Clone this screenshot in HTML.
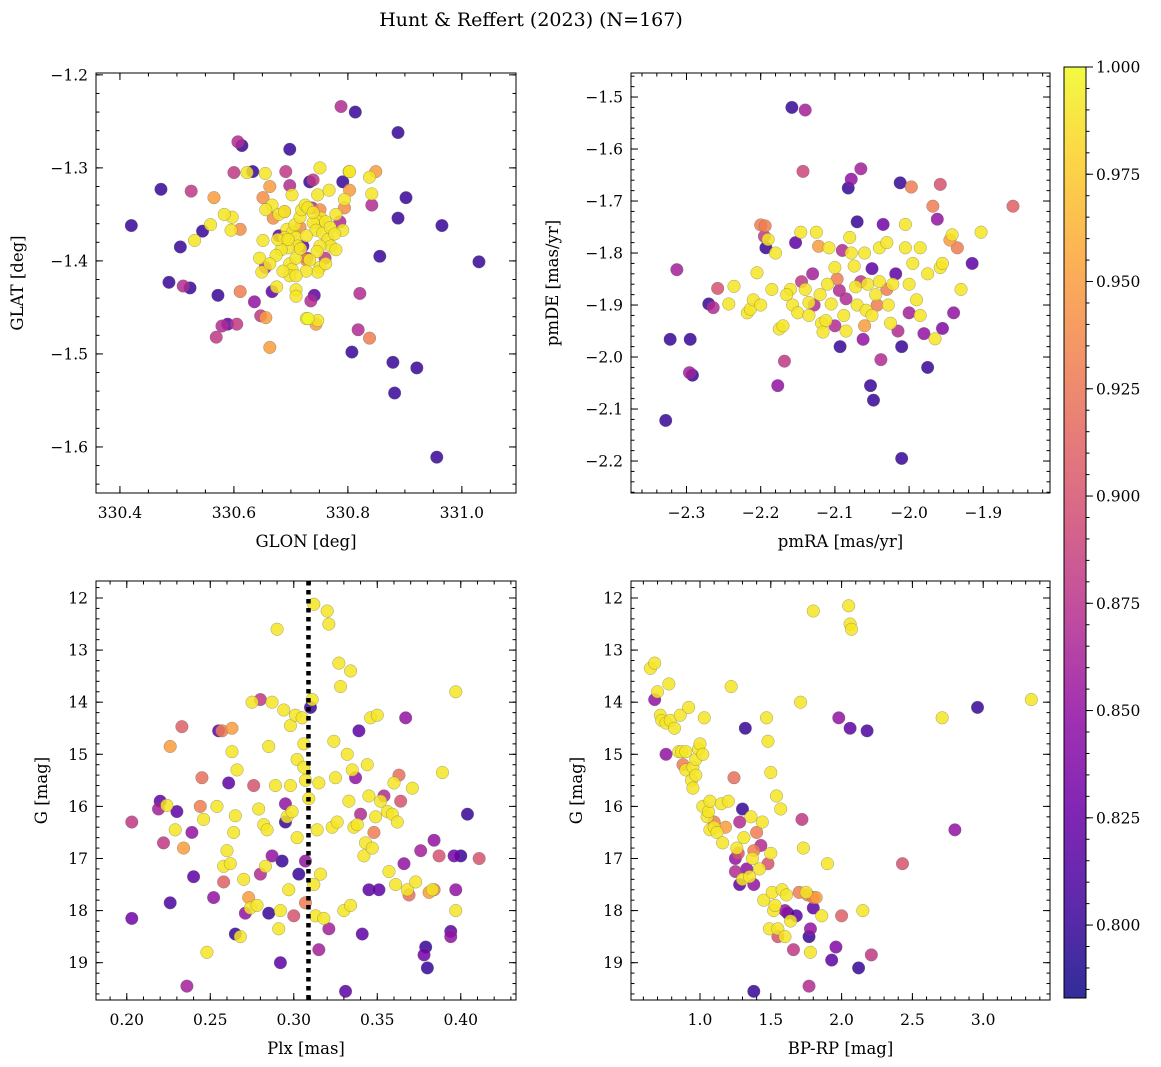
<!DOCTYPE html>
<html><head><meta charset="utf-8"><style>
html,body{margin:0;padding:0;background:#fff;}
svg{display:block;font-family:"DejaVu Serif","Liberation Serif",serif;}
</style></head><body>
<svg id="fig" width="1161" height="1067" viewBox="0 0 1161 1067" xmlns="http://www.w3.org/2000/svg">
<text x="531" y="26" text-anchor="middle" font-size="19">Hunt &amp; Reffert (2023) (N=167)</text>
</svg>
<script>
// ---- Panel 1: GLON / GLAT ----
const p1Glon=[330.420,330.472,330.506,330.486,330.511,330.523,330.525,330.545,330.531,330.559,330.565,330.572,330.569,330.579,330.589,330.605,330.607,330.614,330.600,330.623,330.633,330.655,330.691,330.698,330.751,330.788,330.813,330.888,330.849,330.802,330.838,330.739,330.733,330.791,330.767,330.842,330.902,330.842,330.888,330.965,331.030,330.856,330.821,330.818,330.838,330.807,330.879,330.882,330.921,330.956,330.611,330.647,330.656,330.663,330.636,330.744,330.747,330.727,330.735,330.611,330.595,330.597,330.583,330.645,330.649,330.651,
330.663,330.669,330.667,330.679,330.689,330.693,330.702,330.707,330.716,330.719,330.725,330.730,330.751,330.753,330.747,330.739,330.744,330.756,330.761,330.769,330.765,330.770,330.751,330.746,330.751,330.747,330.761,330.779,330.709,330.712,330.695,330.689,330.683,330.677,330.674,330.698,330.702,330.709,330.709,330.709,330.698,330.686,330.675,330.663,330.655,330.667,330.679,330.721,330.728,330.760,330.733,330.741,330.779,330.786,330.791,330.777,330.747,330.702,330.698,330.656,330.651,330.794,330.794,330.803,330.803,330.727,330.695,330.727,330.717,330.709,330.727,330.716,330.689,330.737,330.739,330.730];
const p1Glat=[-1.362,-1.323,-1.385,-1.423,-1.427,-1.429,-1.325,-1.368,-1.378,-1.361,-1.332,-1.437,-1.482,-1.470,-1.468,-1.468,-1.272,-1.276,-1.305,-1.305,-1.304,-1.306,-1.304,-1.280,-1.300,-1.234,-1.240,-1.262,-1.304,-1.304,-1.310,-1.313,-1.315,-1.315,-1.324,-1.340,-1.332,-1.328,-1.354,-1.362,-1.401,-1.395,-1.435,-1.474,-1.483,-1.498,-1.509,-1.542,-1.515,-1.611,-1.433,-1.459,-1.461,-1.493,-1.444,-1.468,-1.464,-1.462,-1.443,-1.366,-1.367,-1.353,-1.350,-1.397,-1.412,-1.378,
-1.320,-1.354,-1.340,-1.350,-1.347,-1.366,-1.370,-1.361,-1.353,-1.345,-1.340,-1.343,-1.345,-1.354,-1.358,-1.359,-1.367,-1.370,-1.358,-1.364,-1.377,-1.384,-1.384,-1.390,-1.407,-1.412,-1.403,-1.388,-1.375,-1.384,-1.386,-1.375,-1.388,-1.377,-1.394,-1.403,-1.409,-1.397,-1.431,-1.438,-1.416,-1.411,-1.428,-1.403,-1.407,-1.433,-1.373,-1.384,-1.397,-1.397,-1.399,-1.437,-1.350,-1.358,-1.367,-1.371,-1.329,-1.329,-1.319,-1.345,-1.332,-1.343,-1.334,-1.324,-1.304,-1.373,-1.377,-1.411,-1.387,-1.416,-1.399,-1.364,-1.347,-1.343,-1.348,-1.462];
const p1Prob=[0.80,0.80,0.80,0.80,0.87,0.80,0.88,0.80,0.99,0.99,0.95,0.80,0.88,0.87,0.82,0.88,0.87,0.80,0.88,0.99,0.80,0.99,0.88,0.80,0.99,0.87,0.80,0.80,0.95,0.99,0.99,0.88,0.80,0.80,0.99,0.87,0.80,0.99,0.80,0.80,0.80,0.80,0.87,0.87,0.93,0.80,0.80,0.80,0.80,0.80,0.93,0.88,0.95,0.95,0.85,0.95,0.99,0.99,0.87,0.94,0.99,0.99,0.99,0.99,0.99,0.99,
0.95,0.94,0.99,0.99,0.99,0.99,0.99,0.99,0.99,0.99,0.99,0.99,0.94,0.99,0.99,0.99,0.99,0.99,0.99,0.99,0.99,0.99,0.99,0.99,0.99,0.99,0.99,0.99,0.99,0.99,0.99,0.99,0.99,0.99,0.99,0.99,0.99,0.99,0.99,0.99,0.99,0.99,0.99,0.99,0.87,0.82,0.82,0.82,0.87,0.88,0.99,0.82,0.99,0.87,0.99,0.99,0.99,0.99,0.87,0.99,0.94,0.94,0.99,0.95,0.99,0.99,0.99,0.99,0.99,0.99,0.94,0.94,0.94,0.87,0.99];

// ---- Panel 2: pmRA / pmDE ----
const p2Pmra=[-2.328,-2.322,-2.313,-2.296,-2.292,-2.295,-2.27,-2.264,-2.258,-2.243,-2.236,-2.218,-2.214,-2.21,-2.205,-2.2,-2.194,-2.195,-2.193,-2.19,-2.18,-2.177,-2.175,-2.17,-2.168,-2.158,-2.153,-2.14,-2.143,-2.146,-2.16,-2.165,-2.157,-2.15,-2.145,-2.14,-2.135,-2.13,-2.128,-2.122,-2.118,-2.116,-2.112,-2.108,-2.105,-2.10,-2.097,-2.094,-2.093,-2.09,-2.088,-2.085,-2.082,-2.078,-2.08,-2.078,-2.074,-2.072,-2.07,-2.07,-2.065,-2.065,-2.062,-2.06,-2.058,-2.056,-2.05,-2.045,-2.043,-2.04,-2.04,-2.038,-2.035,-2.03,-2.028,-2.025,-2.022,-2.018,-2.015,-2.01,-2.005,-2.0,-1.995,-2.052,-2.048,-2.01,-2.012,-1.997,-2.005,-1.985,-1.99,-1.985,-1.98,-1.975,-1.965,-1.962,-1.968,-1.975,-1.958,-1.958,-1.955,-1.955,-1.945,-1.942,-1.935,-1.93,-1.94,-1.915,-1.903,-1.86,-2.125,-2.11,-2.135,-2.1,-2.06,-2.03,-2.2,-2.185,-2.12,-2.085,-2.05,-2.0];
const p2Pmde=[-2.122,-1.966,-1.832,-2.03,-2.035,-1.966,-1.898,-1.905,-1.868,-1.898,-1.864,-1.915,-1.908,-1.89,-1.838,-1.746,-1.748,-1.768,-1.79,-1.774,-1.80,-2.055,-1.946,-1.94,-2.008,-1.52,-1.78,-1.525,-1.643,-1.76,-1.87,-1.88,-1.90,-1.915,-1.855,-1.87,-1.895,-1.84,-1.90,-1.787,-1.935,-1.952,-1.93,-1.79,-1.898,-1.828,-1.85,-1.872,-1.98,-1.795,-1.92,-1.888,-1.675,-1.658,-1.77,-1.80,-1.825,-1.865,-1.74,-1.90,-1.855,-1.638,-1.966,-1.80,-1.91,-1.86,-1.83,-1.88,-1.90,-1.855,-1.79,-2.005,-1.745,-1.87,-1.90,-1.935,-1.86,-1.84,-1.95,-1.98,-1.79,-1.915,-1.82,-2.055,-2.083,-2.195,-1.665,-1.673,-1.745,-1.79,-1.89,-1.92,-1.955,-1.84,-1.965,-1.735,-1.71,-2.02,-1.668,-1.828,-1.82,-1.945,-1.775,-1.765,-1.79,-1.87,-1.915,-1.82,-1.76,-1.71,-1.76,-1.86,-1.92,-1.94,-1.94,-1.78,-1.9,-1.87,-1.88,-1.95,-1.92,-1.86];
const p2Prob=[0.80,0.80,0.86,0.86,0.80,0.80,0.80,0.87,0.90,0.99,0.99,0.99,0.99,0.99,0.99,0.93,0.93,0.88,0.80,0.99,0.99,0.85,0.99,0.99,0.88,0.80,0.82,0.86,0.89,0.99,0.99,0.99,0.99,0.99,0.88,0.99,0.99,0.86,0.87,0.95,0.99,0.99,0.99,0.99,0.99,0.99,0.93,0.87,0.80,0.87,0.99,0.87,0.80,0.85,0.99,0.99,0.99,0.99,0.80,0.99,0.88,0.86,0.85,0.99,0.99,0.99,0.82,0.99,0.93,0.99,0.99,0.87,0.83,0.93,0.99,0.99,0.99,0.82,0.87,0.80,0.99,0.86,0.99,0.80,0.80,0.80,0.80,0.93,0.99,0.99,0.99,0.99,0.85,0.99,0.99,0.85,0.93,0.80,0.90,0.99,0.99,0.84,0.95,0.99,0.93,0.99,0.85,0.82,0.99,0.91,0.99,0.99,0.99,0.87,0.95,0.99,0.99,0.99,0.99,0.99,0.99,0.99];

// ---- Panel 3: Plx / G ----
const p3Plx=[0.203,0.203,0.220,0.219,0.222,0.224,0.226,0.229,0.230,0.233,0.234,0.236,0.239,0.240,0.226,0.245,0.244,0.246,0.248,0.252,0.254,0.255,0.257,0.258,0.258,0.260,0.261,0.262,0.263,0.263,0.264,0.265,0.266,0.265,0.268,0.270,0.271,0.273,0.274,0.275,0.276,0.278,0.279,0.280,0.280,0.282,0.283,0.284,0.285,0.285,0.287,0.287,0.289,0.290,0.291,0.292,0.292,0.293,0.294,0.295,0.295,0.296,0.297,0.298,0.298,0.299,0.300,0.301,0.302,0.302,0.303,0.305,0.306,0.306,0.307,0.307,0.307,0.309,0.310,0.311,0.312,0.312,0.313,0.314,0.315,0.316,0.315,0.318,0.320,0.321,0.321,0.323,0.324,0.325,0.326,0.327,0.328,0.330,0.331,0.332,0.333,0.334,0.334,0.335,0.336,0.337,0.338,0.339,0.340,0.341,0.342,0.343,0.344,0.345,0.345,0.346,0.347,0.348,0.349,0.350,0.351,0.352,0.354,0.356,0.357,0.359,0.360,0.361,0.362,0.363,0.364,0.366,0.367,0.368,0.369,0.371,0.373,0.376,0.378,0.379,0.380,0.381,0.383,0.384,0.384,0.387,0.389,0.394,0.394,0.396,0.397,0.397,0.397,0.400,0.404,0.411];
const p3G=[16.3,18.15,15.9,16.05,16.7,15.98,17.85,16.45,16.1,14.47,16.8,19.45,16.5,17.35,14.85,15.45,16.0,16.25,18.8,17.75,16.0,14.55,14.55,17.45,17.15,16.85,15.55,17.1,14.5,14.95,16.5,16.18,15.3,18.45,18.5,17.4,18.05,17.75,17.95,14.0,15.6,17.9,16.05,13.95,17.3,16.35,17.15,16.45,18.05,14.85,14.0,16.95,15.6,12.6,18.35,19.0,18.0,17.05,14.15,16.3,15.95,16.2,17.6,14.45,15.6,16.1,18.1,14.25,15.1,16.6,17.3,14.3,14.8,15.25,15.5,17.05,17.85,15.85,14.1,13.95,12.12,17.5,18.1,16.45,18.75,17.3,15.55,18.15,12.25,12.5,18.35,16.4,14.75,15.45,16.3,13.25,13.7,18.0,19.55,15.0,15.9,13.4,17.9,15.3,16.4,15.45,16.35,14.55,16.15,18.45,16.95,16.7,15.2,17.6,15.8,14.3,16.8,16.5,16.2,14.25,17.6,15.9,15.8,16.1,17.25,16.15,15.55,17.5,16.3,15.4,15.9,17.1,14.3,17.6,17.7,15.65,17.45,16.85,18.85,18.7,19.1,17.65,17.6,16.65,17.6,16.95,15.35,18.4,18.5,16.95,17.6,18.0,13.8,16.95,16.15,17.0];
const p3Prob=[0.88,0.83,0.82,0.86,0.88,0.99,0.81,0.99,0.82,0.91,0.95,0.86,0.85,0.82,0.95,0.92,0.93,0.99,0.99,0.85,0.99,0.82,0.93,0.91,0.99,0.99,0.82,0.99,0.95,0.99,0.99,0.99,0.99,0.80,0.99,0.99,0.85,0.95,0.99,0.99,0.90,0.99,0.99,0.88,0.87,0.99,0.99,0.99,0.80,0.99,0.99,0.85,0.99,0.99,0.99,0.82,0.99,0.80,0.99,0.80,0.85,0.99,0.99,0.99,0.99,0.99,0.90,0.99,0.99,0.99,0.80,0.99,0.99,0.99,0.99,0.85,0.93,0.99,0.80,0.99,0.99,0.99,0.99,0.99,0.86,0.99,0.99,0.99,0.99,0.99,0.86,0.99,0.99,0.99,0.99,0.99,0.99,0.99,0.82,0.99,0.99,0.99,0.99,0.99,0.99,0.85,0.99,0.82,0.87,0.82,0.99,0.99,0.99,0.82,0.99,0.99,0.99,0.93,0.99,0.99,0.82,0.99,0.87,0.99,0.99,0.99,0.99,0.99,0.99,0.92,0.90,0.85,0.85,0.99,0.92,0.99,0.99,0.86,0.83,0.80,0.80,0.95,0.99,0.85,0.93,0.90,0.99,0.82,0.85,0.83,0.85,0.99,0.99,0.80,0.80,0.90];
const p3Cut=[0.3088];

// ---- Panel 4: BP-RP / G ----
const p4Col=[0.65,0.68,0.68,0.7,0.72,0.73,0.76,0.76,0.78,0.79,0.82,0.85,0.86,0.87,0.88,0.9,0.92,0.9,0.94,0.95,0.95,0.97,0.97,0.99,1.0,1.02,1.02,1.03,1.05,1.06,1.07,1.07,1.1,1.1,1.12,1.15,1.16,1.18,1.2,1.22,1.24,1.25,1.25,1.26,1.27,1.28,1.28,1.3,1.3,1.31,1.32,1.33,1.35,1.36,1.37,1.38,1.38,1.38,1.4,1.42,1.43,1.44,1.45,1.47,1.48,1.48,1.49,1.5,1.5,1.51,1.52,1.53,1.54,1.55,1.55,1.57,1.58,1.6,1.6,1.61,1.62,1.64,1.66,1.68,1.7,1.71,1.72,1.73,1.75,1.76,1.77,1.77,1.78,1.78,1.8,1.8,1.8,1.82,1.86,1.9,1.93,1.96,1.98,2.0,2.05,2.06,2.07,2.06,2.12,2.15,2.18,2.21,2.43,2.71,2.8,2.96,3.34];
const p4G=[13.35,13.25,13.95,13.8,14.25,14.35,14.4,15.0,13.65,14.35,14.5,14.95,14.25,14.95,15.2,15.3,14.1,14.95,15.5,15.65,15.25,15.1,15.4,14.9,14.8,15.0,16.0,14.3,16.2,16.1,15.9,16.45,16.3,16.4,16.5,15.95,16.7,16.4,15.9,13.7,15.45,17.0,17.25,16.8,16.9,17.5,16.3,17.4,16.05,16.6,14.5,17.2,17.35,16.2,17.0,16.85,17.5,19.55,16.5,17.2,16.75,16.3,17.8,14.3,14.75,17.1,18.35,15.35,16.9,17.65,18.0,17.9,15.8,18.35,18.5,16.05,17.6,18.0,18.5,17.7,18.05,18.2,18.75,18.1,17.65,14.0,16.25,16.8,17.65,17.7,18.5,19.45,18.35,18.8,12.25,17.95,17.75,17.75,18.1,17.1,18.95,18.7,14.3,18.1,12.15,12.5,12.6,14.5,19.1,18.0,14.55,18.85,17.1,14.3,16.45,14.1,13.95];
const p4Prob=[0.99,0.99,0.85,0.99,0.99,0.99,0.99,0.85,0.99,0.99,0.99,0.99,0.99,0.99,0.93,0.99,0.99,0.99,0.99,0.99,0.99,0.99,0.99,0.99,0.99,0.99,0.99,0.99,0.99,0.99,0.99,0.99,0.93,0.99,0.99,0.99,0.99,0.95,0.99,0.99,0.92,0.85,0.87,0.99,0.90,0.82,0.87,0.99,0.80,0.99,0.80,0.85,0.99,0.99,0.99,0.93,0.85,0.80,0.93,0.99,0.87,0.99,0.99,0.99,0.99,0.90,0.99,0.99,0.99,0.99,0.99,0.99,0.99,0.99,0.90,0.99,0.99,0.85,0.99,0.99,0.80,0.99,0.88,0.82,0.93,0.99,0.88,0.99,0.99,0.93,0.80,0.87,0.85,0.99,0.99,0.82,0.93,0.95,0.99,0.99,0.82,0.84,0.85,0.91,0.99,0.99,0.99,0.82,0.80,0.99,0.81,0.88,0.90,0.99,0.85,0.80,0.99];

const cbTicks=[0.800,0.825,0.850,0.875,0.900,0.925,0.950,0.975,1.000];
const VMIN=0.783, VMAX=1.0;

const NS="http://www.w3.org/2000/svg";
const svg=document.getElementById('fig');
function mk(tag,attrs,parent){const e=document.createElementNS(NS,tag);for(const k in attrs)e.setAttribute(k,attrs[k]);(parent||svg).appendChild(e);return e;}
const stops=[[0,13,8,135],[0.1,65,4,157],[0.2,106,0,168],[0.3,143,13,164],[0.4,177,42,144],[0.5,204,71,120],[0.6,225,100,98],[0.7,242,132,75],[0.8,252,166,54],[0.9,252,206,37],[1,240,249,33]];
function plasma(t){t=Math.max(0,Math.min(1,t));for(let i=1;i<stops.length;i++){if(t<=stops[i][0]){const a=stops[i-1],b=stops[i],f=(t-a[0])/(b[0]-a[0]);return 'rgb('+[1,2,3].map(j=>Math.round(a[j]+(b[j]-a[j])*f)).join(',')+')';}}return 'rgb(240,249,33)';}
function cval(p){return plasma((p-VMIN)/(VMAX-VMIN));}

function panel(cfg){
  const g=mk('g',{});
  
  
  const {x0,x1,y0,y1,xmin,xmax,ymin,ymax}=cfg;
  const sx=v=>x0+(v-xmin)/(xmax-xmin)*(x1-x0);
  const sy=cfg.invert? v=>y0+(v-ymin)/(ymax-ymin)*(y1-y0) : v=>y1-(v-ymin)/(ymax-ymin)*(y1-y0);
  const clip='clip-'+cfg.name;
  const cp=mk('clipPath',{id:clip},g);mk('rect',{x:x0,y:y0,width:x1-x0,height:y1-y0},cp);
  const pts=mk('g',{'clip-path':'url(#'+clip+')'},g);
  const order=cfg.xs.map((_,i)=>i).sort((a,b)=>cfg.p[a]-cfg.p[b]);
  order.forEach(i=>{const c=mk('circle',{cx:sx(cfg.xs[i]),cy:sy(cfg.ys[i]),r:6.3,fill:cval(cfg.p[i]),'fill-opacity':0.85,stroke:'#666','stroke-width':0.5,'stroke-opacity':0.6},pts);
    
    });
  if(cfg.cut){cfg.cut.forEach(c=>{const l=mk('line',{x1:sx(c),x2:sx(c),y1:y0,y2:y1,stroke:'#000','stroke-width':4.5,'stroke-dasharray':'4.5,4.5'},pts);
    
    });}
  mk('rect',{x:x0,y:y0,width:x1-x0,height:y1-y0,fill:'none',stroke:'#000','stroke-width':1},g);
  const tk=(v,isX,len)=>{if(isX){const X=sx(v);if(X<x0-0.5||X>x1+0.5)return;mk('line',{x1:X,x2:X,y1:y1,y2:y1-len,stroke:'#000','stroke-width':1},g);mk('line',{x1:X,x2:X,y1:y0,y2:y0+len,stroke:'#000','stroke-width':1},g);}
    else{const Y=sy(v);if(Y<y0-0.5||Y>y1+0.5)return;mk('line',{x1:x0,x2:x0+len,y1:Y,y2:Y,stroke:'#000','stroke-width':1},g);mk('line',{x1:x1,x2:x1-len,y1:Y,y2:Y,stroke:'#000','stroke-width':1},g);}};
  for(let k=Math.ceil(xmin/cfg.xminor);k*cfg.xminor<=xmax;k++)tk(k*cfg.xminor,true,3.5);
  for(let k=Math.ceil(Math.min(ymin,ymax)/cfg.yminor);k*cfg.yminor<=Math.max(ymin,ymax);k++)tk(k*cfg.yminor,false,3.5);
  cfg.xt.forEach(v=>{tk(v,true,7);const t=mk('text',{x:sx(v),y:y1+25,'text-anchor':'middle','font-size':15.5},g);t.textContent=v.toFixed(cfg.xd).replace('-','\u2212');
    
    });
  cfg.yt.forEach(v=>{tk(v,false,7);const t=mk('text',{x:x0-8,y:sy(v)+5.5,'text-anchor':'end','font-size':15.5},g);t.textContent=v.toFixed(cfg.yd).replace('-','\u2212');
    
    });
  const xl=mk('text',{x:(x0+x1)/2,y:y1+54,'text-anchor':'middle','font-size':16.5},g);xl.textContent=cfg.xlab;
  
  
  const ylx=cfg.ylx;const yl=mk('text',{x:ylx,y:(y0+y1)/2,'text-anchor':'middle','font-size':16.5,transform:'rotate(-90 '+ylx+' '+(y0+y1)/2+')'},g);yl.textContent=cfg.ylab;
  
  
}

panel({name:'glon-glat-panel',x0:96,x1:516,y0:73,y1:493,xmin:330.358,xmax:331.095,ymin:-1.6495,ymax:-1.198,xs:p1Glon,ys:p1Glat,p:p1Prob,xt:[330.4,330.6,330.8,331.0],yt:[-1.2,-1.3,-1.4,-1.5,-1.6],xd:1,yd:1,xminor:0.05,yminor:0.02,xlab:'GLON [deg]',ylab:'GLAT [deg]',ylx:23});
panel({name:'proper-motion-panel',x0:631,x1:1050,y0:73,y1:493,xmin:-2.3748,xmax:-1.8101,ymin:-2.2615,ymax:-1.4538,xs:p2Pmra,ys:p2Pmde,p:p2Prob,xt:[-2.3,-2.2,-2.1,-2.0,-1.9],yt:[-1.5,-1.6,-1.7,-1.8,-1.9,-2.0,-2.1,-2.2],xd:1,yd:1,xminor:0.02,yminor:0.02,xlab:'pmRA [mas/yr]',ylab:'pmDE [mas/yr]',ylx:558});
panel({name:'parallax-cmd-panel',x0:96,x1:516,y0:581,y1:1000,xmin:0.18157,xmax:0.43307,ymin:11.674,ymax:19.716,invert:true,xs:p3Plx,ys:p3G,p:p3Prob,cut:p3Cut,xt:[0.20,0.25,0.30,0.35,0.40],yt:[12,13,14,15,16,17,18,19],xd:2,yd:0,xminor:0.01,yminor:0.2,xlab:'Plx [mas]',ylab:'G [mag]',ylx:47});
panel({name:'color-magnitude-panel',x0:631,x1:1050,y0:581,y1:1000,xmin:0.5127,xmax:3.4718,ymin:11.674,ymax:19.716,invert:true,xs:p4Col,ys:p4G,p:p4Prob,xt:[1.0,1.5,2.0,2.5,3.0],yt:[12,13,14,15,16,17,18,19],xd:1,yd:0,xminor:0.1,yminor:0.2,xlab:'BP-RP [mag]',ylab:'G [mag]',ylx:582});

// colorbar
const cb=mk('g',{});


const defs=mk('defs',{},cb);const lg=mk('linearGradient',{id:'cbg',x1:0,y1:1,x2:0,y2:0},defs);
for(let i=0;i<=20;i++){mk('stop',{offset:i/20,'stop-color':plasma(i/20),'stop-opacity':0.85},lg);}
const cbY0=67,cbY1=998,cbX0=1064,cbX1=1086;
mk('rect',{x:cbX0,y:cbY0,width:cbX1-cbX0,height:cbY1-cbY0,fill:'url(#cbg)',stroke:'#000','stroke-width':1},cb);
const cy=v=>cbY1-(v-VMIN)/(VMAX-VMIN)*(cbY1-cbY0);
for(let k=157;k<=200;k++){const v=k*0.005;mk('line',{x1:cbX1,x2:cbX1+3.5,y1:cy(v),y2:cy(v),stroke:'#000','stroke-width':1},cb);}
cbTicks.forEach(v=>{mk('line',{x1:cbX1,x2:cbX1+7,y1:cy(v),y2:cy(v),stroke:'#000','stroke-width':1},cb);
  const t=mk('text',{x:cbX1+10,y:cy(v)+5.5,'font-size':15.5},cb);t.textContent=v.toFixed(3);
  
  });
</script>
</body></html>
